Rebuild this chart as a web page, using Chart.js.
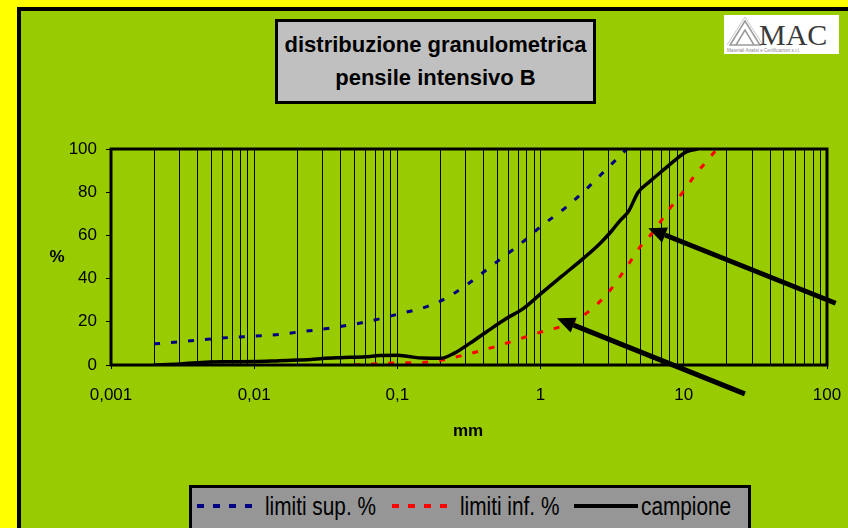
<!DOCTYPE html>
<html>
<head>
<meta charset="utf-8">
<script src="https://cdn.jsdelivr.net/npm/chart.js@4"></script>
<style>
  html, body { margin: 0; padding: 0; }
  body { width: 848px; height: 528px; overflow: hidden; position: relative; background: #ffff00; font-family: "Liberation Sans", Arial, sans-serif; }
  #frame { position: absolute; left: 17px; top: 7px; width: 900px; height: 600px; background: #99cc00; border: 4px solid #000; }
  #chart { position: absolute; left: 0; top: 0; }
  #title { position: absolute; left: 275px; top: 19px; width: 321px; height: 85px; box-sizing: border-box;
           background: #c0c0c0; border: 3px solid #000; text-align: center; font-weight: bold; font-size: 22px;
           line-height: 33px; padding-top: 6px; color: #000; }
  #logo { position: absolute; left: 724px; top: 15px; width: 115px; height: 39px; background: #fff; }
  .axis-title { position: absolute; font-weight: bold; font-size: 17px; color: #000; transform: translate(-50%, -50%); }
  #legend { position: absolute; left: 189px; top: 485px; width: 562px; height: 60px; box-sizing: border-box;
            background: #969696; border: 3px solid #000; }
  .lg { position: absolute; top: 506px; transform: translateY(-50%) scaleX(0.8); transform-origin: left center;
        font-size: 26px; color: #000; white-space: nowrap; line-height: 1; }
  .lg-mark { position: absolute; top: 500px; }
</style>
</head>
<body>
<div id="frame"></div>
<canvas id="chart" width="848" height="528"></canvas>
<div id="title">distribuzione granulometrica<br>pensile intensivo B</div>
<div id="logo">
  <svg width="115" height="39" viewBox="0 0 115 39">
    <path d="M6 30 L21 6 L36 30 Z M12 30 L21 15 L30 30" fill="none" stroke="#9a9a9a" stroke-width="1.5"/>
    <path d="M3 30 L21 2 L39 30" fill="none" stroke="#c8c8c8" stroke-width="1"/>
    <text x="35" y="30" font-family="Liberation Serif, serif" font-size="30" fill="#3a3a3a">MAC</text>
    <text x="3" y="37" font-family="Liberation Sans, sans-serif" font-size="4.6" fill="#8a8a8a">Materiali Analisi e Certificazioni s.r.l.</text>
  </svg>
</div>
<div class="axis-title" style="left:57px; top:257px;">%</div>
<div class="axis-title" style="left:468px; top:431px;">mm</div>
<div id="legend"></div>
<svg class="lg-mark" style="left:197px;" width="58" height="12"><line x1="0" y1="6" x2="58" y2="6" stroke="#000080" stroke-width="4" stroke-dasharray="7 9"/></svg>
<span class="lg" style="left:265px;">limiti sup. %</span>
<svg class="lg-mark" style="left:392px;" width="58" height="12"><line x1="0" y1="6" x2="58" y2="6" stroke="#ff0000" stroke-width="4" stroke-dasharray="7 9"/></svg>
<span class="lg" style="left:460px;">limiti inf. %</span>
<svg class="lg-mark" style="left:574px;" width="64" height="12"><line x1="0" y1="6" x2="64" y2="6" stroke="#000" stroke-width="4"/></svg>
<span class="lg" style="left:641px;">campione</span>

<script>
// granulometric curves: particle size (mm) vs passing (%)
const supSizes  = [0.002, 0.003, 0.005, 0.007, 0.01, 0.015, 0.02, 0.03, 0.05, 0.07, 0.1, 0.15, 0.2, 0.3, 0.5, 0.7, 1, 1.5, 2, 3, 4];
const supValues = [9.8, 10.7, 12.1, 12.8, 13.4, 14.2, 15.2, 16.6, 18.9, 20.9, 23.5, 26.4, 29.6, 36.8, 48, 55.3, 64, 73, 80.3, 91.8, 100];

const infSizes  = [0.05, 0.07, 0.1, 0.15, 0.2, 0.3, 0.5, 0.7, 1, 1.5, 2, 3, 4, 5, 6, 8, 10, 12, 15, 17];
const infValues = [0, 0.5, 1, 1.2, 2.2, 4.8, 8.8, 11.9, 15.2, 18.6, 23, 33.9, 45.5, 55, 61, 72.5, 80.6, 88, 95.6, 100];

const campSizes  = [0.002, 0.003, 0.004, 0.006, 0.01, 0.015, 0.02, 0.025, 0.03, 0.04, 0.06, 0.075, 0.1, 0.12, 0.15, 0.2, 0.25, 0.32, 0.42, 0.58, 0.76, 1, 1.4, 2, 2.6, 3.1, 3.6, 4.1, 4.8, 5.8, 7.2, 9, 10.5, 12.5];
const campValues = [0, 0.5, 1.1, 1.5, 1.6, 2, 2.3, 2.5, 3, 3.4, 3.8, 4.4, 4.5, 3.9, 3.2, 3.1, 5.5, 10, 15.4, 21.6, 26.2, 32.9, 41, 49.5, 56.3, 61.7, 67, 71, 80, 85, 90.3, 95.7, 98.8, 100];

const decadeValues = [0.001, 0.01, 0.1, 1, 10, 100];
const decadeLabels = ['0,001', '0,01', '0,1', '1', '10', '100'];

// arrow annotations in data units [mm, %]
const arrowTails = [[115, 28.6], [26.7, -13.4]];
const arrowTips  = [[5.65, 63.3], [1.3, 21.6]];

// one vertical line for every 1..9 x 10^n
const gridValues = [];
for (let e = -3; e <= 1; e++) {
  for (let m = 1; m <= 9; m++) gridValues.push(Number((m * Math.pow(10, e)).toPrecision(3)));
}
gridValues.push(100);

function decadeIndex(v) {
  return decadeValues.findIndex(d => Math.abs(Math.log10(v) - Math.log10(d)) < 1e-6);
}
function toPoints(xs, ys) {
  return xs.map((x, i) => ({ x: x, y: ys[i] }));
}

const framePlugin = {
  id: 'frame',
  afterDatasetsDraw(chart) {
    const { ctx, chartArea: a } = chart;
    ctx.save();
    ctx.strokeStyle = '#000';
    ctx.lineWidth = 3;
    ctx.strokeRect(a.left, a.top, a.right - a.left, a.bottom - a.top);
    ctx.restore();
  },
  afterDraw(chart) {
    const { ctx } = chart;
    const xs = chart.scales.x, ys = chart.scales.y;
    ctx.save();
    ctx.fillStyle = '#000';
    ctx.strokeStyle = '#000';
    arrowTails.forEach((t, i) => {
      const x1 = xs.getPixelForValue(t[0]), y1 = ys.getPixelForValue(t[1]);
      const x2 = xs.getPixelForValue(arrowTips[i][0]), y2 = ys.getPixelForValue(arrowTips[i][1]);
      const ang = Math.atan2(y2 - y1, x2 - x1);
      const head = 18, half = 8;
      const bx = x2 - head * Math.cos(ang), by = y2 - head * Math.sin(ang);
      ctx.lineWidth = 5;
      ctx.beginPath();
      ctx.moveTo(x1, y1);
      ctx.lineTo(bx, by);
      ctx.stroke();
      ctx.beginPath();
      ctx.moveTo(x2, y2);
      ctx.lineTo(bx + half * Math.sin(ang), by - half * Math.cos(ang));
      ctx.lineTo(bx - half * Math.sin(ang), by + half * Math.cos(ang));
      ctx.closePath();
      ctx.fill();
    });
    ctx.restore();
  }
};

Chart.defaults.font.family = '"Liberation Sans", Arial, sans-serif';
Chart.defaults.font.size = 17;
Chart.defaults.color = '#000';

new Chart(document.getElementById('chart').getContext('2d'), {
  type: 'line',
  data: {
    datasets: [
      {
        label: 'campione',
        data: toPoints(campSizes, campValues),
        borderColor: '#000',
        borderWidth: 3.5,
        cubicInterpolationMode: 'monotone'
      },
      {
        label: 'limiti sup. %',
        data: toPoints(supSizes, supValues),
        borderColor: '#000080',
        borderWidth: 3,
        borderDash: [6, 11],
        cubicInterpolationMode: 'monotone'
      },
      {
        label: 'limiti inf. %',
        data: toPoints(infSizes, infValues),
        borderColor: '#ff0000',
        borderWidth: 3,
        borderDash: [6, 11],
        cubicInterpolationMode: 'monotone'
      }
    ]
  },
  options: {
    responsive: false,
    animation: false,
    events: [],
    layout: { padding: { top: 149, right: 21, left: 0, bottom: 0 } },
    elements: { point: { radius: 0 } },
    plugins: { legend: { display: false }, tooltip: { enabled: false } },
    scales: {
      x: {
        type: 'logarithmic',
        min: 0.001,
        max: 100,
        afterBuildTicks: s => { s.ticks = gridValues.map(v => ({ value: v })); },
        afterFit: s => { s.height = 163; s.paddingLeft = 0; s.paddingRight = 0; },
        border: { display: false },
        grid: {
          color: '#000',
          lineWidth: 1,
          tickLength: 4,
          tickColor: c => (decadeIndex(c.tick.value) >= 0 ? '#000' : 'rgba(0,0,0,0)')
        },
        ticks: {
          autoSkip: false,
          maxRotation: 0,
          padding: 16,
          callback: v => { const i = decadeIndex(v); return i >= 0 ? decadeLabels[i] : ''; }
        }
      },
      y: {
        min: 0,
        max: 100,
        afterFit: s => { s.width = 111; },
        border: { display: false },
        grid: { drawOnChartArea: false, tickLength: 5, color: '#000', lineWidth: 1 },
        ticks: { stepSize: 20, padding: 9 }
      }
    }
  },
  plugins: [framePlugin]
});
</script>
</body>
</html>
